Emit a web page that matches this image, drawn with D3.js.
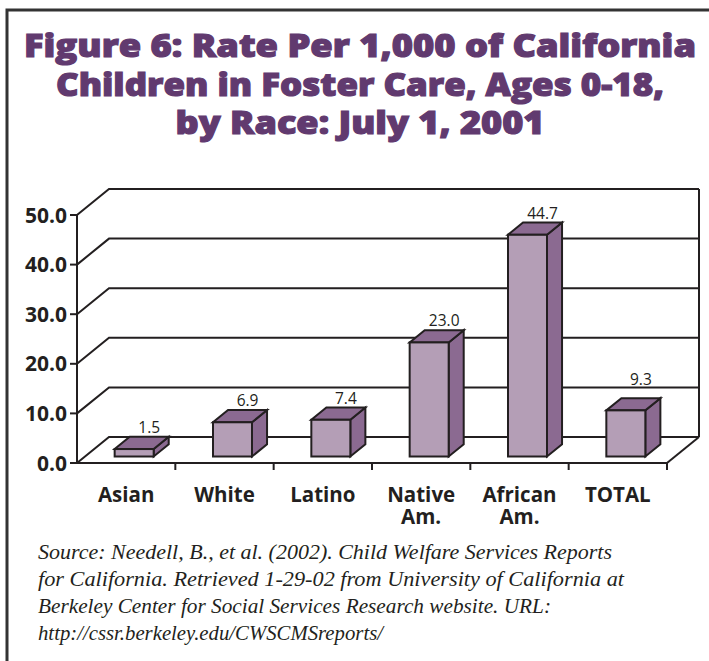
<!DOCTYPE html>
<html>
<head>
<meta charset="utf-8">
<script src="https://cdn.jsdelivr.net/npm/d3@7"></script>
<style>
  body { margin: 0; background: #fff; }
  svg { display: block; }
</style>
</head>
<body>
<div id="chart"></div>
<script>
// values
const categories = ["Asian", "White", "Latino", "Native Am.", "African Am.", "TOTAL"];
const rates = [1.5, 6.9, 7.4, 23.0, 44.7, 9.3];
const yTicks = [0, 10, 20, 30, 40, 50];
const titleLines = [
  "Figure 6: Rate Per 1,000 of California",
  "Children in Foster Care, Ages 0-18,",
  "by Race: July 1, 2001"
];
const sourceLines = [
  "Source: Needell, B., et al. (2002). Child Welfare Services Reports",
  "for California. Retrieved 1-29-02 from University of California at",
  "Berkeley Center for Social Services Research website. URL:",
  "http://cssr.berkeley.edu/CWSCMSreports/"
];

let W = 709, H = 661;
let ink = "#231f20";
let purple = "#613a6f";
let faceCol = "#b49eb6", sideCol = "#8b6a91";

let svg = d3.select("#chart").append("svg")
  .attr("width", W)
  .attr("height", H);

// frame (top + left only, as in the scan)
svg.append("path")
  .attr("d", "M7,661 L7,10 L709,10")
  .attr("fill", "none")
  .attr("stroke", "#333")
  .attr("stroke-width", 3);

// title
let titleWidths = [672, 608, 369];
svg.selectAll(".title")
  .data(titleLines)
  .enter()
  .append("text")
  .attr("class", "title")
  .attr("x", 360)
  .attr("y", (d, i) => 57 + i * 38.5)
  .attr("text-anchor", "middle")
  .attr("font-family", "'Open Sans', sans-serif")
  .attr("font-weight", 800)
  .attr("font-size", "31px")
  .attr("fill", purple)
  .attr("stroke", purple)
  .attr("stroke-width", 1.1)
  .attr("textLength", (d, i) => titleWidths[i])
  .attr("lengthAdjust", "spacingAndGlyphs")
  .text(d => d);

// plot geometry
let x0 = 77, x1 = 667;
let depthX = 32, depthY = -26;   // full depth of the 3-d box
let zFront = 0.25, zBack = 0.72; // where the bars sit inside the box

let x = d3.scaleBand()
  .domain(categories)
  .range([x0, x1]);
let y = d3.scaleLinear()
  .domain([0, 50])
  .range([463, 215]);

let grid = svg.append("g")
  .attr("stroke", ink)
  .attr("stroke-width", 2)
  .attr("fill", "none");

// back wall lines + left wall diagonals
grid.selectAll(".back")
  .data(yTicks)
  .enter()
  .append("path")
  .attr("d", d => "M" + x0 + "," + y(d) +
    " L" + (x0 + depthX) + "," + (y(d) + depthY) +
    " L" + (x1 + depthX) + "," + (y(d) + depthY));

// back right edge
grid.append("line")
  .attr("x1", x1 + depthX).attr("x2", x1 + depthX)
  .attr("y1", y(0) + depthY).attr("y2", y(50) + depthY);

// floor right edge
grid.append("line")
  .attr("x1", x1).attr("y1", y(0))
  .attr("x2", x1 + depthX).attr("y2", y(0) + depthY);

// bars
let bw = 39;
let barData = categories.map((c, i) => ({ name: c, v: rates[i] }));
let bars = svg.selectAll(".bar")
  .data(barData)
  .enter()
  .append("g")
  .attr("class", "bar")
  .attr("stroke", ink)
  .attr("stroke-width", 2)
  .attr("stroke-linejoin", "miter");

let fx = d => x(d.name) + x.bandwidth() / 2 + zFront * depthX - bw / 2;
let fyTop = d => y(d.v) + zFront * depthY;
let fyBot = d => y(0) + zFront * depthY;
let ddx = (zBack - zFront) * depthX, ddy = (zBack - zFront) * depthY;

bars.append("path")
  .attr("fill", sideCol)
  .attr("d", d => {
    let r = fx(d) + bw;
    return "M" + r + "," + fyTop(d) + " L" + (r + ddx) + "," + (fyTop(d) + ddy) +
      " L" + (r + ddx) + "," + (fyBot(d) + ddy) + " L" + r + "," + fyBot(d) + "Z";
  });

bars.append("path")
  .attr("fill", sideCol)
  .attr("d", d => {
    let l = fx(d), r = l + bw, t = fyTop(d);
    return "M" + l + "," + t + " L" + r + "," + t + " L" + (r + ddx) + "," + (t + ddy) +
      " L" + (l + ddx) + "," + (t + ddy) + "Z";
  });

bars.append("rect")
  .attr("fill", faceCol)
  .attr("x", fx)
  .attr("y", fyTop)
  .attr("width", bw)
  .attr("height", d => fyBot(d) - fyTop(d));

// value labels - nudged above a back gridline when they would sit on it
function labelY(d) {
  let base = fyTop(d) + ddy - 4;
  yTicks.forEach(t => {
    let g = y(t) + depthY;
    if (g > base - 12 && g < base + 2) base = g - 2;
  });
  return base;
}

svg.selectAll(".val")
  .data(barData)
  .enter()
  .append("text")
  .attr("class", "val")
  .attr("x", d => fx(d) + bw / 2 + ddx)
  .attr("y", labelY)
  .attr("text-anchor", "middle")
  .attr("font-family", "'Open Sans', sans-serif")
  .attr("font-size", "15.5px")
  .attr("fill", ink)
  .text(d => d3.format(".1f")(d.v));

// front axes
let axisG = svg.append("g")
  .attr("stroke", ink)
  .attr("stroke-width", 2)
  .attr("fill", "none");

axisG.append("line")
  .attr("x1", x0).attr("x2", x0)
  .attr("y1", y(0) + 1).attr("y2", y(50));
axisG.append("line")
  .attr("x1", x0 - 1).attr("x2", x1)
  .attr("y1", y(0)).attr("y2", y(0));

// y ticks
axisG.selectAll(".yt")
  .data(yTicks)
  .enter()
  .append("line")
  .attr("x1", x0 - 7).attr("x2", x0)
  .attr("y1", d => y(d)).attr("y2", d => y(d));

// x ticks at category boundaries
axisG.selectAll(".xt")
  .data(categories)
  .enter()
  .append("line")
  .attr("x1", d => x(d) + x.bandwidth()).attr("x2", d => x(d) + x.bandwidth())
  .attr("y1", y(0)).attr("y2", y(0) + 7);

svg.selectAll(".ylab")
  .data(yTicks)
  .enter()
  .append("text")
  .attr("class", "ylab")
  .attr("x", 67)
  .attr("y", d => y(d) + 7.5)
  .attr("text-anchor", "end")
  .attr("font-family", "'Open Sans', sans-serif")
  .attr("font-weight", "bold")
  .attr("font-size", "21px")
  .attr("fill", ink)
  .text(d => d3.format(".1f")(d));

// category labels (split on the space)
let catLab = svg.selectAll(".xlab")
  .data(categories)
  .enter()
  .append("text")
  .attr("class", "xlab")
  .attr("text-anchor", "middle")
  .attr("font-family", "'Open Sans', sans-serif")
  .attr("font-weight", "bold")
  .attr("font-size", "20.5px")
  .attr("fill", ink);

catLab.selectAll("tspan")
  .data(d => d.split(" ").map(s => ({ s: s, cx: x(d) + x.bandwidth() / 2 })))
  .enter()
  .append("tspan")
  .attr("x", d => d.cx)
  .attr("y", (d, i) => 502 + i * 22)
  .text(d => d.s);

// source note
let srcWidths = [574, 586, 513, 345];
svg.selectAll(".src")
  .data(sourceLines)
  .enter()
  .append("text")
  .attr("class", "src")
  .attr("x", 38)
  .attr("y", (d, i) => 559 + i * 27)
  .style("font-family", "'Liberation Serif', 'Times New Roman', 'DejaVu Serif', 'Noto Serif', serif")
  .style("font-style", "italic")
  .style("font-size", "21px")
  .attr("fill", ink)
  .attr("textLength", (d, i) => srcWidths[i])
  .attr("lengthAdjust", "spacingAndGlyphs")
  .text(d => d);
</script>
</body>
</html>
